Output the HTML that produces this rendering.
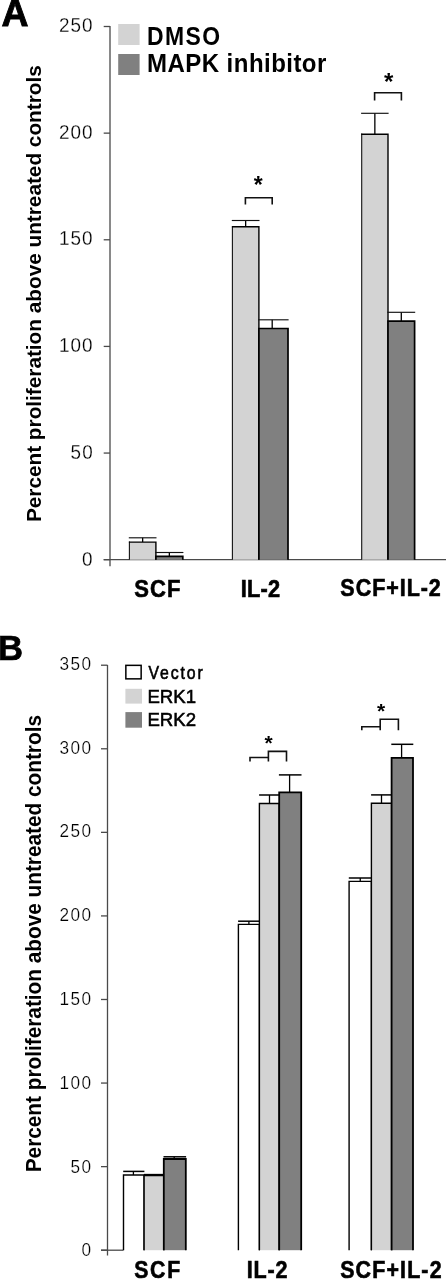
<!DOCTYPE html>
<html><head><meta charset="utf-8"><style>
html,body{margin:0;padding:0;background:#fff;}
svg{display:block;font-family:"Liberation Sans", sans-serif;filter:grayscale(1) blur(0.25px);}
</style></head><body>
<svg width="448" height="1280" viewBox="0 0 448 1280">
<rect width="448" height="1280" fill="#fff"/>
<text transform="translate(1.58,25.68) scale(0.9980,1)" font-size="37.50" font-weight="bold" stroke="#000" stroke-width="0.9">A</text>
<line x1="110.00" y1="26.00" x2="110.00" y2="566.30" stroke="#4a4a4a" stroke-width="1.3"/>
<line x1="103.70" y1="559.70" x2="110.00" y2="559.70" stroke="#4a4a4a" stroke-width="1.3"/>
<text transform="translate(82.06,566.39) scale(0.92,1)" font-size="20.56" letter-spacing="1.17" fill="#000" stroke="#fff" stroke-width="0.25">0</text>
<line x1="103.70" y1="453.06" x2="110.00" y2="453.06" stroke="#4a4a4a" stroke-width="1.3"/>
<text transform="translate(70.58,459.42) scale(0.92,1)" font-size="20.56" letter-spacing="1.17" fill="#000" stroke="#fff" stroke-width="0.25">50</text>
<line x1="103.70" y1="346.42" x2="110.00" y2="346.42" stroke="#4a4a4a" stroke-width="1.3"/>
<text transform="translate(58.91,352.45) scale(0.92,1)" font-size="20.56" letter-spacing="1.17" fill="#000" stroke="#fff" stroke-width="0.25">100</text>
<line x1="103.70" y1="239.78" x2="110.00" y2="239.78" stroke="#4a4a4a" stroke-width="1.3"/>
<text transform="translate(58.91,245.48) scale(0.92,1)" font-size="20.56" letter-spacing="1.17" fill="#000" stroke="#fff" stroke-width="0.25">150</text>
<line x1="103.70" y1="133.14" x2="110.00" y2="133.14" stroke="#4a4a4a" stroke-width="1.3"/>
<text transform="translate(58.91,138.51) scale(0.92,1)" font-size="20.56" letter-spacing="1.17" fill="#000" stroke="#fff" stroke-width="0.25">200</text>
<line x1="103.70" y1="26.50" x2="110.00" y2="26.50" stroke="#4a4a4a" stroke-width="1.3"/>
<text transform="translate(58.91,31.54) scale(0.92,1)" font-size="20.56" letter-spacing="1.17" fill="#000" stroke="#fff" stroke-width="0.25">250</text>
<line x1="103.70" y1="559.70" x2="446.00" y2="559.70" stroke="#4a4a4a" stroke-width="1.3"/>
<rect x="129.4" y="542.1" width="26.50" height="17.60" fill="#d3d3d3"/>
<line x1="129.40" y1="559.70" x2="129.40" y2="541.50" stroke="#111" stroke-width="1.1"/>
<polyline points="128.9,542.1 155.9,542.1 155.9,559.7" fill="none" stroke="#000" stroke-width="1.4"/>
<line x1="142.65" y1="542.10" x2="142.65" y2="537.80" stroke="#000" stroke-width="1.3"/>
<line x1="128.80" y1="537.80" x2="156.50" y2="537.80" stroke="#111" stroke-width="1.15"/>
<rect x="155.9" y="556.3" width="26.90" height="3.40" fill="#808080"/>
<polyline points="155.9,559.7 155.9,556.3 182.8,556.3 182.8,559.7" fill="none" stroke="#000" stroke-width="1.7"/>
<line x1="169.35" y1="556.30" x2="169.35" y2="552.50" stroke="#000" stroke-width="1.3"/>
<line x1="155.30" y1="552.50" x2="183.40" y2="552.50" stroke="#111" stroke-width="1.15"/>
<rect x="232.4" y="226.8" width="26.50" height="332.90" fill="#d3d3d3"/>
<line x1="232.40" y1="559.70" x2="232.40" y2="226.20" stroke="#111" stroke-width="1.1"/>
<polyline points="231.9,226.8 258.9,226.8 258.9,559.7" fill="none" stroke="#000" stroke-width="1.4"/>
<line x1="245.65" y1="226.80" x2="245.65" y2="220.50" stroke="#000" stroke-width="1.3"/>
<line x1="231.80" y1="220.50" x2="259.50" y2="220.50" stroke="#111" stroke-width="1.15"/>
<rect x="258.9" y="328.5" width="29.10" height="231.20" fill="#808080"/>
<polyline points="258.9,559.7 258.9,328.5 288,328.5 288,559.7" fill="none" stroke="#000" stroke-width="1.7"/>
<line x1="272.20" y1="328.50" x2="272.20" y2="319.80" stroke="#000" stroke-width="1.3"/>
<line x1="258.30" y1="319.80" x2="288.60" y2="319.80" stroke="#111" stroke-width="1.15"/>
<rect x="361.7" y="134.2" width="26.30" height="425.50" fill="#d3d3d3"/>
<line x1="361.70" y1="559.70" x2="361.70" y2="133.60" stroke="#111" stroke-width="1.1"/>
<polyline points="361.2,134.2 388,134.2 388,559.7" fill="none" stroke="#000" stroke-width="1.4"/>
<line x1="374.85" y1="134.20" x2="374.85" y2="113.30" stroke="#000" stroke-width="1.3"/>
<line x1="361.10" y1="113.30" x2="388.60" y2="113.30" stroke="#111" stroke-width="1.15"/>
<rect x="388" y="321.2" width="26.60" height="238.50" fill="#808080"/>
<polyline points="388,559.7 388,321.2 414.6,321.2 414.6,559.7" fill="none" stroke="#000" stroke-width="1.7"/>
<line x1="401.30" y1="321.20" x2="401.30" y2="312.30" stroke="#000" stroke-width="1.3"/>
<line x1="387.40" y1="312.30" x2="415.20" y2="312.30" stroke="#111" stroke-width="1.15"/>
<polyline points="245.4,204.4 245.4,197.7 272.2,197.7 272.2,204.4" fill="none" stroke="#111" stroke-width="1.6"/>
<polyline points="374.6,100.5 374.6,92.7 401.4,92.7 401.4,100.5" fill="none" stroke="#111" stroke-width="1.6"/>
<text x="258.3" y="192.62" font-size="23" font-weight="bold" text-anchor="middle">*</text>
<text x="388.7" y="89.62" font-size="24" font-weight="bold" text-anchor="middle">*</text>
<text transform="translate(134.14,596.56) scale(0.9200,1)" font-size="23.94" font-weight="bold" letter-spacing="1.24" stroke="#000" stroke-width="0.6">SCF</text>
<text transform="translate(240.77,596.60) scale(0.9200,1)" font-size="23.71" font-weight="bold" letter-spacing="0.20" stroke="#000" stroke-width="0.6">IL-2</text>
<text transform="translate(340.35,596.27) scale(0.9200,1)" font-size="23.38" font-weight="bold" letter-spacing="1.04" stroke="#000" stroke-width="0.6">SCF+IL-2</text>
<rect x="118.20" y="24.00" width="21.40" height="21.00" fill="#d3d3d3" stroke="none" stroke-width="0"/>
<rect x="118.20" y="54.00" width="21.40" height="21.00" fill="#808080" stroke="none" stroke-width="0"/>
<text transform="translate(146.99,44.55) scale(0.9000,1)" font-size="25.49" font-weight="bold" letter-spacing="1.63">DMSO</text>
<text transform="translate(146.92,72.04) scale(0.9400,1)" font-size="25.57" font-weight="bold" letter-spacing="0.49">MAPK inhibitor</text>
<text transform="translate(40.50,522.05) rotate(-90) scale(0.9889,1)" font-size="21.01" font-weight="bold">Percent proliferation above untreated controls</text>
<text transform="translate(-1.92,660.10) scale(0.9663,1)" font-size="35.80" font-weight="bold" stroke="#000" stroke-width="0.7">B</text>
<line x1="107.50" y1="665.00" x2="107.50" y2="1255.60" stroke="#4a4a4a" stroke-width="1.3"/>
<line x1="101.00" y1="1250.20" x2="107.50" y2="1250.20" stroke="#4a4a4a" stroke-width="1.3"/>
<text transform="translate(81.44,1256.36) scale(0.9,1)" font-size="19.15" letter-spacing="1.5" fill="#000" stroke="#fff" stroke-width="0.25">0</text>
<line x1="101.00" y1="1166.63" x2="107.50" y2="1166.63" stroke="#4a4a4a" stroke-width="1.3"/>
<text transform="translate(70.60,1172.55) scale(0.9,1)" font-size="19.15" letter-spacing="1.5" fill="#000" stroke="#fff" stroke-width="0.25">50</text>
<line x1="101.00" y1="1083.06" x2="107.50" y2="1083.06" stroke="#4a4a4a" stroke-width="1.3"/>
<text transform="translate(59.60,1088.74) scale(0.9,1)" font-size="19.15" letter-spacing="1.5" fill="#000" stroke="#fff" stroke-width="0.25">100</text>
<line x1="101.00" y1="999.49" x2="107.50" y2="999.49" stroke="#4a4a4a" stroke-width="1.3"/>
<text transform="translate(59.60,1004.93) scale(0.9,1)" font-size="19.15" letter-spacing="1.5" fill="#000" stroke="#fff" stroke-width="0.25">150</text>
<line x1="101.00" y1="915.92" x2="107.50" y2="915.92" stroke="#4a4a4a" stroke-width="1.3"/>
<text transform="translate(59.60,921.12) scale(0.9,1)" font-size="19.15" letter-spacing="1.5" fill="#000" stroke="#fff" stroke-width="0.25">200</text>
<line x1="101.00" y1="832.35" x2="107.50" y2="832.35" stroke="#4a4a4a" stroke-width="1.3"/>
<text transform="translate(59.60,837.31) scale(0.9,1)" font-size="19.15" letter-spacing="1.5" fill="#000" stroke="#fff" stroke-width="0.25">250</text>
<line x1="101.00" y1="748.78" x2="107.50" y2="748.78" stroke="#4a4a4a" stroke-width="1.3"/>
<text transform="translate(59.60,753.50) scale(0.9,1)" font-size="19.15" letter-spacing="1.5" fill="#000" stroke="#fff" stroke-width="0.25">300</text>
<line x1="101.00" y1="665.21" x2="107.50" y2="665.21" stroke="#4a4a4a" stroke-width="1.3"/>
<text transform="translate(59.60,669.69) scale(0.9,1)" font-size="19.15" letter-spacing="1.5" fill="#000" stroke="#fff" stroke-width="0.25">350</text>
<line x1="101.00" y1="1250.20" x2="123.40" y2="1250.20" stroke="#4a4a4a" stroke-width="1.3"/>
<rect x="123.5" y="1175" width="20.60" height="75.20" fill="#fff"/>
<polyline points="123.5,1250.2 123.5,1175 144.1,1175 144.1,1250.2" fill="none" stroke="#000" stroke-width="1.4"/>
<line x1="133.40" y1="1175.00" x2="133.40" y2="1171.40" stroke="#000" stroke-width="1.3"/>
<line x1="123.20" y1="1171.40" x2="144.40" y2="1171.40" stroke="#000" stroke-width="1.5"/>
<rect x="144.1" y="1175.6" width="19.70" height="74.60" fill="#d3d3d3"/>
<polyline points="144.1,1250.2 144.1,1175.6 163.8,1175.6 163.8,1250.2" fill="none" stroke="#000" stroke-width="1.4"/>
<line x1="153.90" y1="1175.60" x2="153.90" y2="1174.60" stroke="#000" stroke-width="1.3"/>
<line x1="143.80" y1="1174.60" x2="164.10" y2="1174.60" stroke="#000" stroke-width="1.5"/>
<rect x="163.8" y="1159" width="22.00" height="91.20" fill="#808080"/>
<polyline points="163.8,1250.2 163.8,1159 185.8,1159 185.8,1250.2" fill="none" stroke="#000" stroke-width="1.8"/>
<line x1="174.20" y1="1159.00" x2="174.20" y2="1156.80" stroke="#000" stroke-width="1.3"/>
<line x1="163.50" y1="1156.80" x2="186.10" y2="1156.80" stroke="#000" stroke-width="1.5"/>
<rect x="238.4" y="924.4" width="21.00" height="325.80" fill="#fff"/>
<polyline points="238.4,1250.2 238.4,924.4 259.4,924.4 259.4,1250.2" fill="none" stroke="#000" stroke-width="1.4"/>
<line x1="248.90" y1="924.40" x2="248.90" y2="921.20" stroke="#000" stroke-width="1.3"/>
<line x1="238.10" y1="921.20" x2="259.70" y2="921.20" stroke="#000" stroke-width="1.5"/>
<rect x="259.4" y="803.5" width="19.80" height="446.70" fill="#d3d3d3"/>
<polyline points="259.4,1250.2 259.4,803.5 279.2,803.5 279.2,1250.2" fill="none" stroke="#000" stroke-width="1.4"/>
<line x1="269.50" y1="803.50" x2="269.50" y2="795.00" stroke="#000" stroke-width="1.3"/>
<line x1="259.10" y1="795.00" x2="279.50" y2="795.00" stroke="#000" stroke-width="1.5"/>
<rect x="279.2" y="792.3" width="22.00" height="457.90" fill="#808080"/>
<polyline points="279.2,1250.2 279.2,792.3 301.2,792.3 301.2,1250.2" fill="none" stroke="#000" stroke-width="1.8"/>
<line x1="289.60" y1="792.30" x2="289.60" y2="774.90" stroke="#000" stroke-width="1.3"/>
<line x1="278.90" y1="774.90" x2="301.50" y2="774.90" stroke="#000" stroke-width="1.5"/>
<rect x="349.1" y="881.4" width="22.30" height="368.80" fill="#fff"/>
<polyline points="349.1,1250.2 349.1,881.4 371.4,881.4 371.4,1250.2" fill="none" stroke="#000" stroke-width="1.4"/>
<line x1="360.25" y1="881.40" x2="360.25" y2="878.00" stroke="#000" stroke-width="1.3"/>
<line x1="348.80" y1="878.00" x2="371.70" y2="878.00" stroke="#000" stroke-width="1.5"/>
<rect x="371.4" y="803.3" width="20.20" height="446.90" fill="#d3d3d3"/>
<polyline points="371.4,1250.2 371.4,803.3 391.6,803.3 391.6,1250.2" fill="none" stroke="#000" stroke-width="1.4"/>
<line x1="381.50" y1="803.30" x2="381.50" y2="794.90" stroke="#000" stroke-width="1.3"/>
<line x1="371.10" y1="794.90" x2="391.90" y2="794.90" stroke="#000" stroke-width="1.5"/>
<rect x="391.6" y="757.8" width="21.40" height="492.40" fill="#808080"/>
<polyline points="391.6,1250.2 391.6,757.8 413.0,757.8 413.0,1250.2" fill="none" stroke="#000" stroke-width="1.8"/>
<line x1="401.60" y1="757.80" x2="401.60" y2="744.30" stroke="#000" stroke-width="1.3"/>
<line x1="391.30" y1="744.30" x2="413.30" y2="744.30" stroke="#000" stroke-width="1.5"/>
<polyline points="250,761.4 250,757.5 268.4,757.5" fill="none" stroke="#111" stroke-width="1.6"/>
<polyline points="268.4,761.4 268.4,751.4 286.5,751.4 286.5,761.4" fill="none" stroke="#111" stroke-width="1.6"/>
<polyline points="361.8,730.2 361.8,726.8 380.2,726.8" fill="none" stroke="#111" stroke-width="1.6"/>
<polyline points="380.2,730.2 380.2,719.3 398.4,719.3 398.4,730.2" fill="none" stroke="#111" stroke-width="1.6"/>
<text x="268.6" y="749.61" font-size="21" font-weight="bold" text-anchor="middle">*</text>
<text x="381" y="717.61" font-size="21" font-weight="bold" text-anchor="middle">*</text>
<rect x="125.85" y="665.35" width="15.30" height="13.50" fill="#fff" stroke="#000" stroke-width="1.5"/>
<rect x="125.40" y="688.80" width="16.60" height="14.80" fill="#d3d3d3" stroke="none" stroke-width="0"/>
<rect x="125.40" y="712.10" width="16.60" height="15.60" fill="#808080" stroke="none" stroke-width="0"/>
<text transform="translate(148.54,678.52) scale(0.9000,1)" font-size="17.57" font-weight="normal" letter-spacing="2.10" stroke="#000" stroke-width="0.6">Vector</text>
<text transform="translate(147.41,702.60) scale(1.0121,1)" font-size="18.41" font-weight="normal" stroke="#000" stroke-width="0.55">ERK1</text>
<text transform="translate(147.41,725.70) scale(1.0432,1)" font-size="17.86" font-weight="normal" stroke="#000" stroke-width="0.55">ERK2</text>
<text transform="translate(134.16,1277.57) scale(0.9200,1)" font-size="23.10" font-weight="bold" letter-spacing="1.89" stroke="#000" stroke-width="0.6">SCF</text>
<text transform="translate(246.79,1277.80) scale(0.9200,1)" font-size="23.43" font-weight="bold" letter-spacing="0.87" stroke="#000" stroke-width="0.6">IL-2</text>
<text transform="translate(340.16,1277.57) scale(0.9200,1)" font-size="23.24" font-weight="bold" letter-spacing="1.27" stroke="#000" stroke-width="0.6">SCF+IL-2</text>
<text transform="translate(41.00,1172.25) rotate(-90) scale(0.9821,1)" font-size="21.16" font-weight="bold">Percent proliferation above untreated controls</text>
</svg>
</body></html>
